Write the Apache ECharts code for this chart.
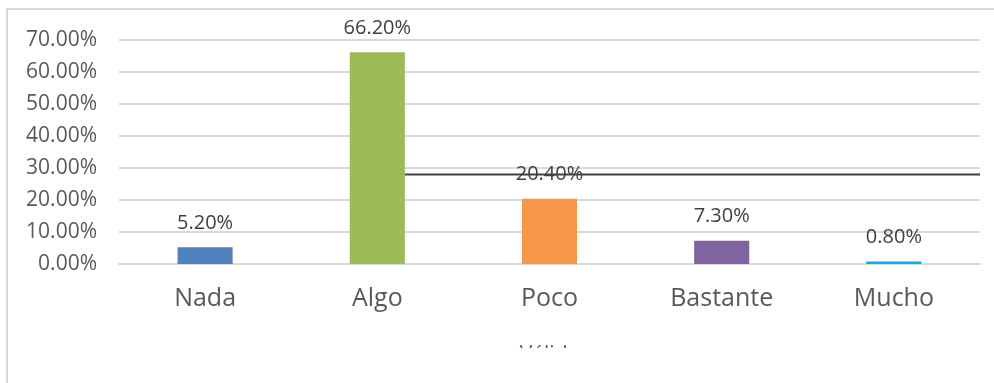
<!DOCTYPE html>
<html>
<head>
<meta charset="utf-8">
<script src="https://cdn.jsdelivr.net/npm/echarts@6/dist/echarts.min.js"></script>
<style>
  html, body { margin: 0; padding: 0; background: #fff; }
  #chart { width: 994px; height: 383px; }
</style>
</head>
<body>
<div id="chart"></div>
<script>
// datos
var categories = ['Nada', 'Algo', 'Poco', 'Bastante', 'Mucho'];
var values = [5.2, 66.2, 20.4, 7.3, 0.8];
var barColors = ['#4f81bd', '#9bbb59', '#f79646', '#8064a2', '#00b0f0'];
var yTicks = [0, 10, 20, 30, 40, 50, 60, 70];
// linea negra suelta que cruza el grafico (x en unidades de categoria, y en %)
var strayLine = [[1.66, 28], [5, 28]];

var chart = echarts.init(document.getElementById('chart'));

var fontFam = '"Open Sans", sans-serif';

var option = {
  animation: false,
  textStyle: { fontFamily: fontFam },
  grid: { left: 119, right: 14, top: 40, bottom: 119 },
  xAxis: [{
    type: 'category',
    data: categories,
    name: 'Válida',
    nameLocation: 'middle',
    nameGap: 81,
    nameTextStyle: { fontSize: 21, color: '#595959', verticalAlign: 'top' },
    axisLine: { lineStyle: { color: '#d9d9d9', width: 2 } },
    axisTick: { show: false },
    axisLabel: { fontSize: 25, color: '#595959', margin: 22 }
  }, {
    type: 'value',
    min: 0,
    max: 5,
    show: false
  }],
  yAxis: {
    type: 'value',
    min: yTicks[0],
    max: yTicks[yTicks.length - 1],
    interval: 10,
    axisLine: { show: false },
    axisTick: { show: false },
    splitLine: { lineStyle: { color: '#d9d9d9', width: 2 } },
    axisLabel: {
      fontSize: 21,
      color: '#595959',
      margin: 22,
      formatter: function (v) { return v.toFixed(2) + '%'; }
    }
  },
  series: [{
    type: 'bar',
    barWidth: '32%',
    data: values.map(function (v, i) {
      return { value: v, itemStyle: { color: barColors[i] } };
    }),
    label: {
      show: true,
      position: 'top',
      distance: 14,
      fontSize: 20,
      color: '#404040',
      formatter: function (p) { return p.value.toFixed(2) + '%'; }
    }
  }, {
    type: 'line',
    xAxisIndex: 1,
    data: strayLine,
    symbol: 'none',
    silent: true,
    z: 5,
    lineStyle: { color: '#404040', width: 2 }
  }],
  graphic: [{
    type: 'rect',
    shape: { x: 7, y: 9, width: 1000, height: 400 },
    style: { fill: 'none', stroke: '#d9d9d9', lineWidth: 2 },
    silent: true
  }, {
    type: 'rect',
    shape: { x: 430, y: 348, width: 240, height: 35 },
    style: { fill: '#fff' },
    z: 100,
    silent: true
  }]
};

chart.setOption(option);
</script>
</body>
</html>
